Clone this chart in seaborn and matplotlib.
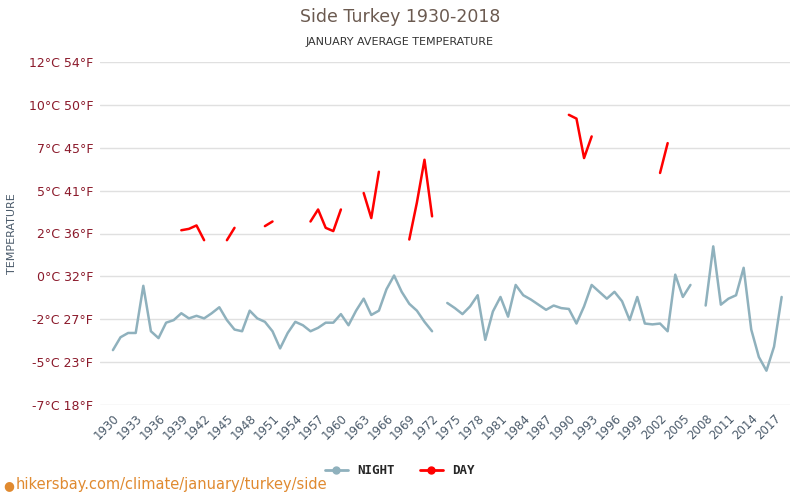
import numpy as np
import pandas as pd
import matplotlib
matplotlib.use("Agg")
import matplotlib.pyplot as plt
import seaborn as sns

years = list(range(1930, 2019))

# night temperatures (°C); None = no data
night = [-4.3, -3.55, -3.3, -3.3, -0.55, -3.2, -3.6, -2.7, -2.55, -2.15,
         -2.45, -2.3, -2.45, -2.15, -1.8, -2.55, -3.1, -3.2, -2.0, -2.45,
         -2.65, -3.2, -4.2, -3.3, -2.65, -2.85, -3.2, -3.0, -2.7, -2.7,
         -2.2, -2.85, -2.0, -1.3, -2.25, -2.0, -0.75, 0.05, -0.9, -1.6,
         -2.0, -2.65, -3.2, None, -1.55, -1.85, -2.2, -1.75, -1.1, -3.7,
         -2.05, -1.2, -2.35, -0.5, -1.1, -1.35, -1.65, -1.95, -1.7, -1.85,
         -1.9, -2.75, -1.75, -0.5, -0.9, -1.3, -0.9, -1.45, -2.55, -1.2,
         -2.75, -2.8, -2.75, -3.2, 0.1, -1.2, -0.5, None, -1.7, 1.75,
         -1.65, -1.3, -1.1, 0.5, -3.1, -4.7, -5.5, -4.1, -1.2]

# day temperatures (°C), only a few years recorded
day = {1939: 2.69, 1940: 2.77, 1941: 2.97, 1942: 2.11,
       1945: 2.11, 1946: 2.83,
       1950: 2.93, 1951: 3.2,
       1956: 3.2, 1957: 3.9, 1958: 2.83, 1959: 2.64, 1960: 3.9,
       1963: 4.86, 1964: 3.4, 1965: 6.1,
       1969: 2.15, 1970: 4.3, 1971: 6.8, 1972: 3.5,
       1990: 9.42, 1991: 9.2, 1992: 6.9, 1993: 8.16,
       2002: 6.03, 2003: 7.77}

ytick_vals = [-7.5, -5, -2.5, 0, 2.5, 5, 7.5, 10, 12.5]
ytick_labels = ["-7°C 18°F", "-5°C 23°F", "-2°C 27°F", "0°C 32°F", "2°C 36°F",
                "5°C 41°F", "7°C 45°F", "10°C 50°F", "12°C 54°F"]

NIGHT_C = "#8fb1bd"
DAY_C = "#ff0000"


def segments(xs, vals):
    # split series into contiguous runs so gaps stay gaps
    rows, seg = [], 0
    prev = None
    for x, v in zip(xs, vals):
        if v is None:
            prev = None
            continue
        if prev is None or x != prev + 1:
            seg += 1
        rows.append((x, v, seg))
        prev = x
    return pd.DataFrame(rows, columns=["year", "temp", "seg"])


night_df = segments(years, night)
day_df = segments(years, [day.get(y) for y in years])

sns.set_style("white")
fig = plt.figure(figsize=(8, 5), dpi=100)
ax = fig.add_axes([0.125, 0.19, 0.8625, 0.686])

sns.lineplot(data=night_df, x="year", y="temp", units="seg", estimator=None,
             color=NIGHT_C, lw=1.8, ax=ax)
sns.lineplot(data=day_df, x="year", y="temp", units="seg", estimator=None,
             color=DAY_C, lw=1.8, ax=ax)

ax.set_xlim(1928.3, 2019.1)
ax.set_ylim(-7.5, 12.5)
ax.set_yticks(ytick_vals)
ax.set_yticklabels(ytick_labels, color="#8b1a2b", fontsize=9)
ax.set_xticks(list(range(1930, 2019, 3)))
ax.set_xticklabels([str(y) for y in range(1930, 2019, 3)], rotation=45,
                   ha="right", rotation_mode="anchor", color="#4a5a6a", fontsize=8.5)
ax.grid(axis="y", color="#e0e0e0", lw=1)
ax.tick_params(length=0, pad=5)
for s in ax.spines.values():
    s.set_visible(False)
ax.set_xlabel("")
ax.set_ylabel("TEMPERATURE", color="#4a5a6a", fontsize=8, labelpad=8)

fig.text(0.5, 0.955, "Side Turkey 1930-2018", ha="center", color="#6b5a50", fontsize=12.5)
fig.text(0.5, 0.91, "JANUARY AVERAGE TEMPERATURE", ha="center", color="#333333", fontsize=8)

h1, = ax.plot([], [], color=NIGHT_C, marker="o", lw=2, ms=5)
h2, = ax.plot([], [], color=DAY_C, marker="o", lw=2, ms=5)
fig.legend([h1, h2], ["NIGHT", "DAY"], loc="center", bbox_to_anchor=(0.5, 0.058),
           ncol=2, frameon=False, handlelength=1.8, columnspacing=2,
           prop={"family": "DejaVu Sans Mono", "weight": "bold", "size": 9})

# location pin + watermark
fig.text(0.004, 0.022, "\u25CF", color="#e08a30", fontsize=9)
fig.text(0.019, 0.022, "hikersbay.com/climate/january/turkey/side", color="#e08a30", fontsize=10.5)

fig.savefig("out.png", dpi=100)
